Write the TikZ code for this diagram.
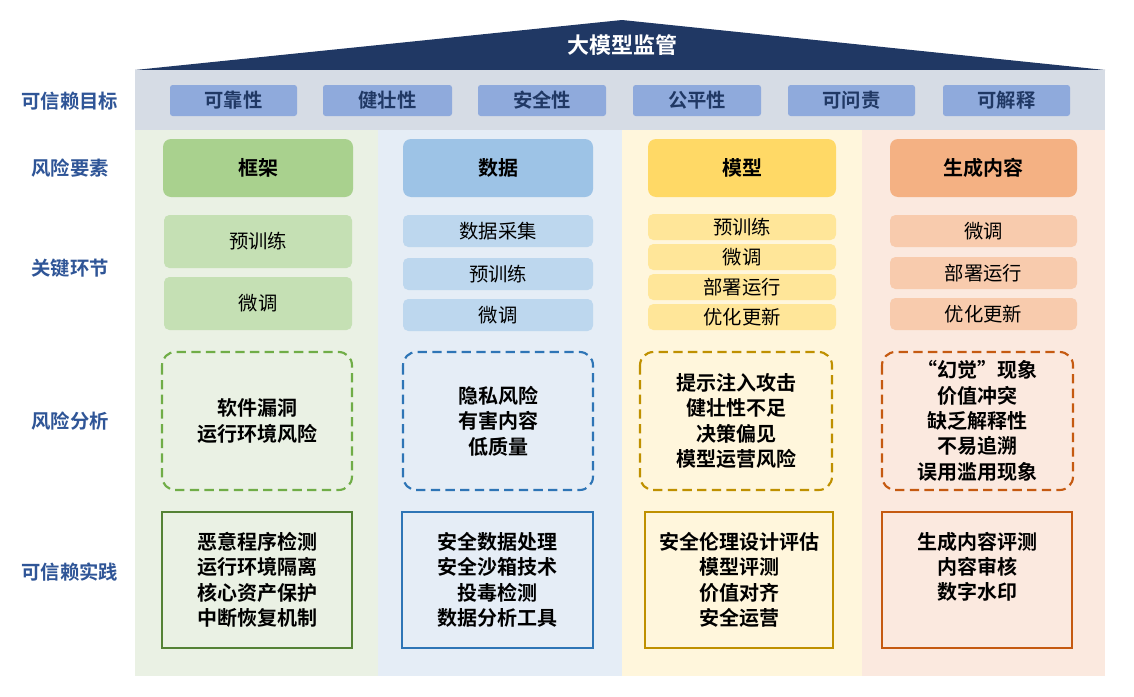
\documentclass[tikz,border=0pt]{standalone}
\usepackage{fontspec}
\setmainfont{Noto Sans CJK SC}
\newfontfamily\cjkb{Noto Sans CJK SC Bold}
\definecolor{navy}{HTML}{203864}
\definecolor{lab}{HTML}{2F5597}
\definecolor{band}{HTML}{D6DCE5}
\definecolor{gbg}{HTML}{EAF1E4}
\definecolor{bbg}{HTML}{E5EDF6}
\definecolor{ybg}{HTML}{FFF6DC}
\definecolor{obg}{HTML}{FBE9DF}
\definecolor{goalc}{HTML}{8FAADC}
\definecolor{gh}{HTML}{A9D18E}
\definecolor{bh}{HTML}{9DC3E6}
\definecolor{yh}{HTML}{FFD966}
\definecolor{oh}{HTML}{F4B183}
\definecolor{gs}{HTML}{C5E0B4}
\definecolor{bs}{HTML}{BDD7EE}
\definecolor{ys}{HTML}{FFE699}
\definecolor{os}{HTML}{F8CBAD}
\definecolor{gl}{HTML}{70AD47}
\definecolor{gd}{HTML}{548235}
\definecolor{bl}{HTML}{2E75B6}
\definecolor{yl}{HTML}{BF9000}
\definecolor{ol}{HTML}{C55A11}
\tikzset{
 lbl/.style={font=\cjkb\fontsize{14.5}{16}\selectfont,text=lab},
 goal/.style={fill=#1,rounded corners=2pt,font=\cjkb\fontsize{14.5}{16}\selectfont,text=navy},
 head/.style={fill=#1,rounded corners=6pt,font=\cjkb\fontsize{15}{17}\selectfont},
 stepbox/.style={fill=#1,rounded corners=4pt,font=\fontsize{14.5}{16}\selectfont},
 risk/.style={draw=#1,line width=1.6pt,dash pattern=on 7pt off 4pt,rounded corners=10pt},
 prac/.style={draw=#1,line width=1.6pt},
 txt/.style={align=center,font=\cjkb\fontsize{15}{19}\selectfont}
}
\begin{document}
\begin{tikzpicture}[x=0.75pt,y=-0.75pt]
\useasboundingbox[fill=white] (0,0) rectangle (1134,696);
% roof
\fill[navy] (135,70) -- (622,20) -- (1105,70) -- cycle;
\node[text=white,font=\cjkb\fontsize{16.5}{18}\selectfont] (title) at (622,45) {大模型监管};
\fill[band] (135,70) rectangle (1105,130);
% columns
\fill[gbg] (135,130) rectangle (378,676);
\fill[bbg] (378,130) rectangle (622,676);
\fill[ybg] (622,130) rectangle (862,676);
\fill[obg] (862,130) rectangle (1105,676);
% labels
\node[lbl] (l1) at (70,101) {可信赖目标};
\node[lbl] (l2) at (70,168) {风险要素};
\node[lbl] (l3) at (70,268) {关键环节};
\node[lbl] (l4) at (70,421) {风险分析};
\node[lbl] (l5) at (70,572) {可信赖实践};
% goals
\foreach \a/\b/\t [count=\i] in {170/297/可靠性,323/452/健壮性,478/606/安全性,633/761/公平性,788/915/可问责,943/1070/可解释}
  \path[goal=goalc] (\a,85) rectangle node (g\i) {\t} (\b,116);
% heads
\path[head=gh] (163,139) rectangle node (h1) {框架} (353,197);
\path[head=bh] (403,139) rectangle node (h2) {数据} (593,197);
\path[head=yh] (648,139) rectangle node (h3) {模型} (836,197);
\path[head=oh] (890,139) rectangle node (h4) {生成内容} (1077,197);
% steps
\path[stepbox=gs] (164,215) rectangle node (s11) {预训练} (352,268);
\path[stepbox=gs] (164,277) rectangle node (s12) {微调} (352,330);
\path[stepbox=bs] (403,215) rectangle node (s21) {数据采集} (593,247);
\path[stepbox=bs] (403,258) rectangle node (s22) {预训练} (593,290);
\path[stepbox=bs] (403,299) rectangle node (s23) {微调} (593,331);
\path[stepbox=ys] (648,214) rectangle node (s31) {预训练} (836,240);
\path[stepbox=ys] (648,244) rectangle node (s32) {微调} (836,270);
\path[stepbox=ys] (648,274) rectangle node (s33) {部署运行} (836,300);
\path[stepbox=ys] (648,304) rectangle node (s34) {优化更新} (836,330);
\path[stepbox=os] (890,215) rectangle node (s41) {微调} (1077,247);
\path[stepbox=os] (890,257) rectangle node (s42) {部署运行} (1077,289);
\path[stepbox=os] (890,298) rectangle node (s43) {优化更新} (1077,330);
% risks
\draw[risk=gl] (162,352) rectangle node[txt] (r1) {软件漏洞\\运行环境风险} (352,490);
\draw[risk=bl] (403,352) rectangle node[txt] (r2) {隐私风险\\有害内容\\低质量} (593,490);
\draw[risk=yl] (640,352) rectangle node[txt] (r3) {提示注入攻击\\健壮性不足\\决策偏见\\模型运营风险} (832,490);
\draw[risk=ol] (882,352) rectangle node[txt] (r4) {“幻觉”现象\\价值冲突\\缺乏解释性\\不易追溯\\误用滥用现象} (1073,490);
% practices
\draw[prac=gd] (162,512) rectangle node[txt] (p1) {恶意程序检测\\运行环境隔离\\核心资产保护\\中断恢复机制} (352,648);
\draw[prac=bl] (402,512) rectangle node[txt] (p2) {安全数据处理\\安全沙箱技术\\投毒检测\\数据分析工具} (593,648);
\draw[prac=yl] (645,512) rectangle node[txt] (p3) {安全伦理设计评估\\模型评测\\价值对齐\\安全运营} (833,648);
\draw[prac=ol] (882,512) rectangle node[txt,yshift=10pt] (p4) {生成内容评测\\内容审核\\数字水印} (1072,648);
\end{tikzpicture}
\end{document}
